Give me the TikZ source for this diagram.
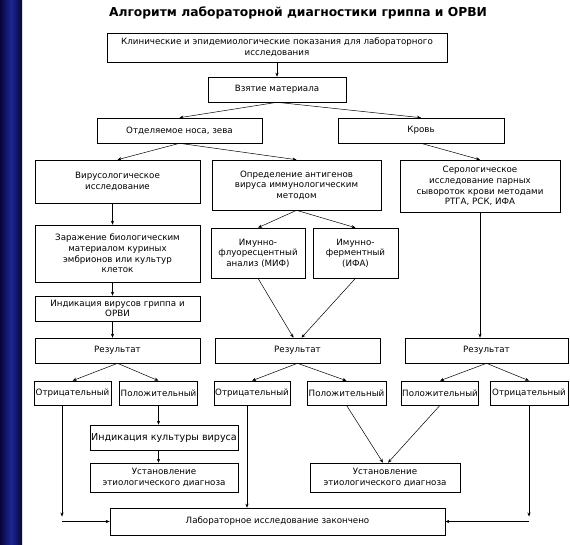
\documentclass[tikz,border=0pt]{standalone}
\usepackage{fontspec}
\setmainfont{DejaVu Sans}
\usetikzlibrary{arrows.meta}
\definecolor{bardark}{RGB}{6,6,58}
\definecolor{barmid}{RGB}{28,38,150}

\begin{document}
\begin{tikzpicture}[x=1pt, y=-1pt, >={Stealth[length=4pt, width=3.2pt]},
    box/.style={draw, line width=0.6pt, align=center, inner sep=1pt, font=\fontsize{8.7}{10.6}\selectfont},
    link/.style={->, line width=0.5pt}]

  \useasboundingbox (0,0) rectangle (570,544);
  \fill[white] (0,0) rectangle (570,544);
  \shade[left color=bardark, right color=bardark, middle color=barmid] (0,0) rectangle (22,544); % blue bar

  \node[font=\bfseries\fontsize{12.3}{14}\selectfont] (title) at (298,13) {Алгоритм лабораторной диагностики гриппа и ОРВИ};

  % material
  \node[box, minimum width=340pt, minimum height=29pt] (klin) at (277,47.5) {Клинические и эпидемиологические показания для лабораторного\\исследования};
  \node[box, minimum width=138pt, minimum height=25pt] (vzyat) at (277,89.5) {Взятие материала};
  \node[box, minimum width=165pt, minimum height=25pt] (otdel) at (179.5,130.5) {Отделяемое носа, зева};
  \node[box, minimum width=166pt, minimum height=25pt] (krov) at (421,130.5) {Кровь};

  % methods
  \node[box, minimum width=165pt, minimum height=43pt] (viru) at (117.5,181.5) {Вирусологическое\\исследование};
  \node[box, minimum width=169pt, minimum height=50pt] (opred) at (296.5,185) {Определение антигенов\\вируса иммунологическим\\методом};
  \node[box, minimum width=160pt, minimum height=52pt] (serol) at (480,186) {Серологическое\\исследование парных\\сывороток крови методами\\РТГА, РСК, ИФА};
  \node[box, minimum width=165pt, minimum height=57pt] (zaraz) at (117.5,253.5) {Заражение биологическим\\материалом куриных\\эмбрионов или культур\\клеток};
  \node[box, minimum width=94pt, minimum height=50pt] (mif) at (258,253) {Имунно-\\флуоресцентный\\анализ (МИФ)};
  \node[box, minimum width=85pt, minimum height=50pt] (ifa) at (355.5,253) {Имунно-\\ферментный\\(ИФА)};
  \node[box, minimum width=165pt, minimum height=25pt] (indv) at (117.5,308.5) {Индикация вирусов гриппа и\\ОРВИ};

  % results
  \node[box, minimum width=165pt, minimum height=25pt] (res1) at (117.5,350.5) {Результат};
  \node[box, minimum width=165pt, minimum height=25pt] (res2) at (297.5,350.5) {Результат};
  \node[box, minimum width=163pt, minimum height=25pt] (res3) at (486.5,350.5) {Результат};
  \node[box, minimum width=77pt, minimum height=24pt] (otr1) at (72.5,393) {Отрицательный};
  \node[box, minimum width=75pt, minimum height=24pt] (pol1) at (158.5,393) {Положительный};
  \node[box, minimum width=76pt, minimum height=24pt] (otr2) at (252,393) {Отрицательный};
  \node[box, minimum width=79pt, minimum height=24pt] (pol2) at (346.5,393) {Положительный};
  \node[box, minimum width=70pt, minimum height=24pt] (pol3) at (440,393) {Положительный};
  \node[box, minimum width=78pt, minimum height=24pt] (otr3) at (529,393) {Отрицательный};

  % diagnosis
  \node[box, minimum width=148pt, minimum height=25pt, font=\fontsize{9.6}{11}\selectfont] (indk) at (164,437.5) {Индикация культуры вируса};
  \node[box, minimum width=148pt, minimum height=29pt] (ust1) at (164,477.5) {Установление\\этиологического диагноза};
  \node[box, minimum width=150pt, minimum height=29pt] (ust2) at (385,477.5) {Установление\\этиологического диагноза};
  \node[box, minimum width=335pt, minimum height=27pt] (lab) at (277.5,521.5) {Лабораторное исследование закончено};

  \coordinate (cl) at (62,521.5);
  \coordinate (cr) at (529,521.5);

  \draw[link] (klin.south) -- (vzyat.north);
  \draw[link] (vzyat.south) -- (otdel.north);
  \draw[link] (vzyat.south) -- (krov.north);
  \draw[link] (otdel.south) -- (viru.north);
  \draw[link] (otdel.south) -- (opred.north);
  \draw[link] (krov.south) -- (serol.north);
  \draw[link] ([xshift=-5pt]viru.south) -- ([xshift=-5pt]zaraz.north);
  \draw[link] ([xshift=-5pt]zaraz.south) -- ([xshift=-5pt]indv.north);
  \draw[link] ([xshift=-5pt]indv.south) -- ([xshift=-5pt]res1.north);
  \draw[link] (opred.south) -- (mif.north);
  \draw[link] (opred.south) -- (ifa.north);
  \draw[link] (mif.south) -- ([xshift=-4pt]res2.north);
  \draw[link] (ifa.south) -- ([xshift=4pt]res2.north);
  \draw[link] (serol.south) -- (serol.south |- res3.north);

  \draw[link] (res1.south) -- (otr1.north);
  \draw[link] (res1.south) -- (pol1.north);
  \draw[link] (res2.south) -- (otr2.north);
  \draw[link] (res2.south) -- (pol2.north);
  \draw[link] (res3.south) -- (pol3.north);
  \draw[link] (res3.south) -- (otr3.north);

  \draw[link] (pol1.south) -- (pol1.south |- indk.north);
  \draw[link] (pol1.south |- indk.south) -- (pol1.south |- ust1.north);
  \draw[link] (pol2.south) -- ([xshift=-2pt]ust2.north);
  \draw[link] (pol3.south) -- ([xshift=3pt]ust2.north);

  \draw[link] (otr1.south -| cl) -- ([yshift=5pt]cl);
  \draw[link] (cl) -- (lab.west);
  \draw[link] ([xshift=-5pt]otr2.south) -- ([xshift=-5pt]otr2.south |- lab.north);
  \draw[link] (otr3.south) -- ([yshift=5pt]cr);
  \draw[link] (cr) -- (lab.east);
\end{tikzpicture}
\end{document}
